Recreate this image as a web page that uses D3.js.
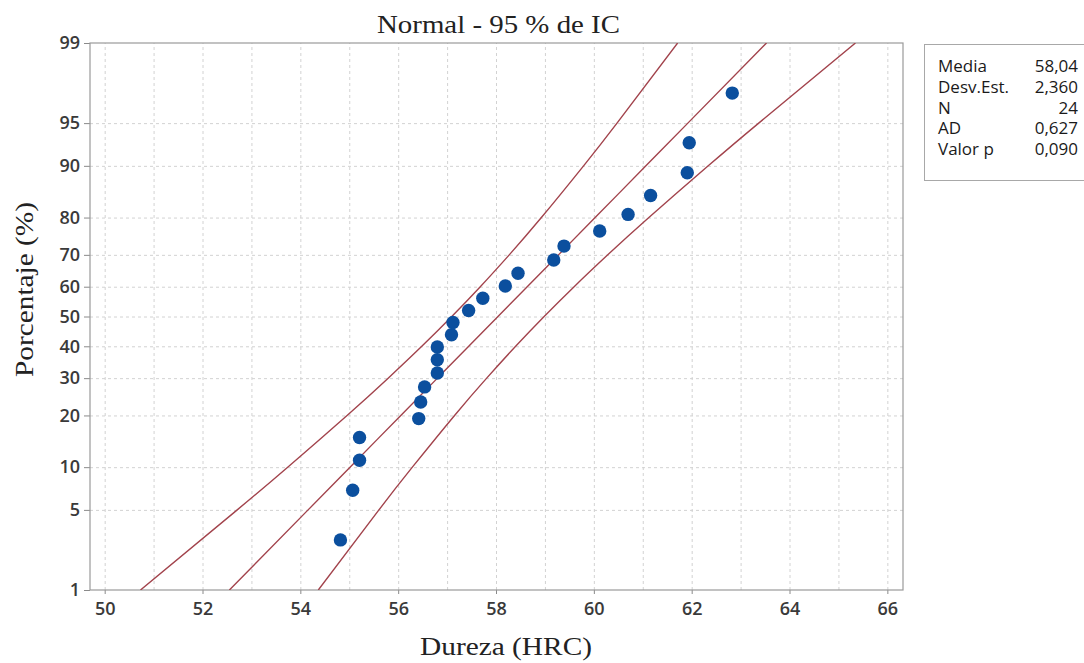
<!DOCTYPE html>
<html>
<head>
<meta charset="utf-8">
<script src="https://cdn.jsdelivr.net/npm/d3@7"></script>
<style>
  body { margin: 0; background: #fff; }
  .tick text { font-family: "Open Sans", sans-serif; font-size: 18px; font-weight: 600; fill: #3a3a3a; }
  .axis path, .axis line { stroke: #8a8a8a; }
  .grid line { stroke: #d2d2d2; stroke-dasharray: 3,3; }
  .grid path { display: none; }
</style>
</head>
<body>
<div class="chart"></div>
<script>
// values
const dureza = [54.82, 55.07, 55.21, 55.21, 56.42, 56.46, 56.54, 56.80, 56.80, 56.80, 57.09, 57.12,
                57.44, 57.73, 58.19, 58.45, 59.18, 59.39, 60.12, 60.70, 61.16, 61.91, 61.95, 62.83];
// plotting positions (median ranks) in percent
const porcentaje = [2.87, 6.97, 11.07, 15.16, 19.26, 23.36, 27.46, 31.56, 35.66, 39.75, 43.85, 47.95,
                    52.05, 56.15, 60.25, 64.34, 68.44, 72.54, 76.64, 80.74, 84.84, 88.93, 93.03, 97.13];
const yTicks = [1, 5, 10, 20, 30, 40, 50, 60, 70, 80, 90, 95, 99];
const xTicks = [50, 52, 54, 56, 58, 60, 62, 64, 66];
const xGrid = [50, 51, 52, 53, 54, 55, 56, 57, 58, 59, 60, 61, 62, 63, 64, 65, 66];
const statLabels = ["Media", "Desv.Est.", "N", "AD", "Valor p"];
const statValues = ["58,04", "2,360", "24", "0,627", "0,090"];
const media = 58.04, desv = 2.360, n = 24;

// inverse normal cdf (Acklam)
function probit(p) {
  const a = [-39.69683028665376, 220.9460984245205, -275.9285104469687, 138.3577518672690, -30.66479806614716, 2.506628277459239];
  const b = [-54.47609879822406, 161.5858368580409, -155.6989798598866, 66.80131188771972, -13.28068155288572];
  const c = [-0.007784894002430293, -0.3223964580411365, -2.400758277161838, -2.549732539343734, 4.374664141464968, 2.938163982698783];
  const d = [0.007784695709041462, 0.3224671290700398, 2.445134137142996, 3.754408661907416];
  const pl = 0.02425;
  let q, r;
  if (p < pl) {
    q = Math.sqrt(-2 * Math.log(p));
    return (((((c[0]*q+c[1])*q+c[2])*q+c[3])*q+c[4])*q+c[5]) / ((((d[0]*q+d[1])*q+d[2])*q+d[3])*q+1);
  } else if (p <= 1 - pl) {
    q = p - 0.5; r = q * q;
    return (((((a[0]*r+a[1])*r+a[2])*r+a[3])*r+a[4])*r+a[5])*q / (((((b[0]*r+b[1])*r+b[2])*r+b[3])*r+b[4])*r+1);
  } else {
    q = Math.sqrt(-2 * Math.log(1 - p));
    return -(((((c[0]*q+c[1])*q+c[2])*q+c[3])*q+c[4])*q+c[5]) / ((((d[0]*q+d[1])*q+d[2])*q+d[3])*q+1);
  }
}

const margin = ({top: 43, left: 90});
const width = 813, height = 547;

const svg = d3.select(".chart").append("svg")
  .attr("width", 1084)
  .attr("height", 663);

const g = svg.append("g")
  .attr("transform", `translate(${margin.left},${margin.top})`);

const xScale = d3.scaleLinear()
  .domain([49.7, 66.32])
  .range([0, width]);

const zScale = d3.scaleLinear()
  .domain([probit(0.01), probit(0.99)])
  .range([height, 0]);

// probability scale usable by d3.axis
function yScale(p) { return zScale(probit(p / 100)); }
yScale.copy = () => yScale;
yScale.range = () => zScale.range();
yScale.domain = () => [1, 99];

// grid
g.append("g")
  .attr("class", "grid")
  .attr("transform", `translate(0,${height})`)
  .call(d3.axisBottom(xScale).tickValues(xGrid).tickSize(-height).tickFormat(""));

g.append("g")
  .attr("class", "grid")
  .call(d3.axisLeft(yScale).tickValues(yTicks.slice(1, -1)).tickSize(-width).tickFormat(""));

// axes
g.append("g")
  .attr("class", "axis")
  .attr("transform", `translate(0,${height})`)
  .call(d3.axisBottom(xScale).tickValues(xTicks).tickSize(4).tickPadding(8).tickFormat(d3.format("d")))
  .call(a => a.select(".domain").remove());

g.append("g")
  .attr("class", "axis")
  .call(d3.axisLeft(yScale).tickValues(yTicks).tickSize(6).tickPadding(4).tickFormat(d => d))
  .call(a => a.select(".domain").remove());

g.append("rect")
  .attr("width", width)
  .attr("height", height)
  .attr("fill", "none")
  .attr("stroke", "#9a9a9a")
  .attr("stroke-width", 1.2);

// fitted line and 95% CI, evaluated at the percent ticks
const se = z => desv * Math.sqrt(1 / n + z * z / (2 * n));
const fit = yTicks.map(p => {
  const z = probit(p / 100);
  const m = media + z * desv;
  return {p, m, lo: m - 1.96 * se(z), hi: m + 1.96 * se(z)};
});

g.append("clipPath").attr("id", "plotclip")
  .append("rect").attr("width", width).attr("height", height);

const lines = g.append("g").attr("clip-path", "url(#plotclip)");
["lo", "m", "hi"].forEach(k => {
  lines.append("path")
    .datum(fit)
    .attr("fill", "none")
    .attr("stroke", "#a2434c")
    .attr("stroke-width", 1.4)
    .attr("d", d3.line()
      .curve(d3.curveNatural)
      .x(d => xScale(d[k]))
      .y(d => yScale(d.p)));
});

// points
g.selectAll("circle.pt")
  .data(dureza)
  .enter()
  .append("circle")
  .attr("class", "pt")
  .attr("cx", d => xScale(d))
  .attr("cy", (d, i) => yScale(porcentaje[i]))
  .attr("r", 6.7)
  .attr("fill", "#0b4f9e");

// titles
const serif = s => s.style("font-family", "'Liberation Serif', serif")
  .style("font-size", "26px")
  .style("fill", "#222")
  .attr("lengthAdjust", "spacingAndGlyphs");

svg.append("text")
  .attr("x", 377)
  .attr("y", 33)
  .attr("textLength", 243)
  .call(serif)
  .text("Normal - 95 % de IC");

svg.append("text")
  .attr("x", 420)
  .attr("y", 655)
  .attr("textLength", 172)
  .call(serif)
  .text("Dureza (HRC)");

svg.append("text")
  .attr("transform", "translate(33,377) rotate(-90)")
  .attr("textLength", 175)
  .call(serif)
  .text("Porcentaje (%)");

// stats box
svg.append("rect")
  .attr("x", 924.5)
  .attr("y", 44.5)
  .attr("width", 200)
  .attr("height", 136)
  .attr("fill", "#fff")
  .attr("stroke", "#a8a8a8");

const stats = svg.selectAll(".stat")
  .data(statLabels)
  .enter()
  .append("g")
  .style("font-family", "'Open Sans', sans-serif")
  .style("font-size", "17px")
  .style("fill", "#1a1a1a");

stats.append("text")
  .attr("x", 938)
  .attr("y", (d, i) => 72 + i * 20.8)
  .text(d => d);

stats.append("text")
  .attr("x", 1078)
  .attr("y", (d, i) => 72 + i * 20.8)
  .attr("text-anchor", "end")
  .text((d, i) => statValues[i]);
</script>
</body>
</html>
